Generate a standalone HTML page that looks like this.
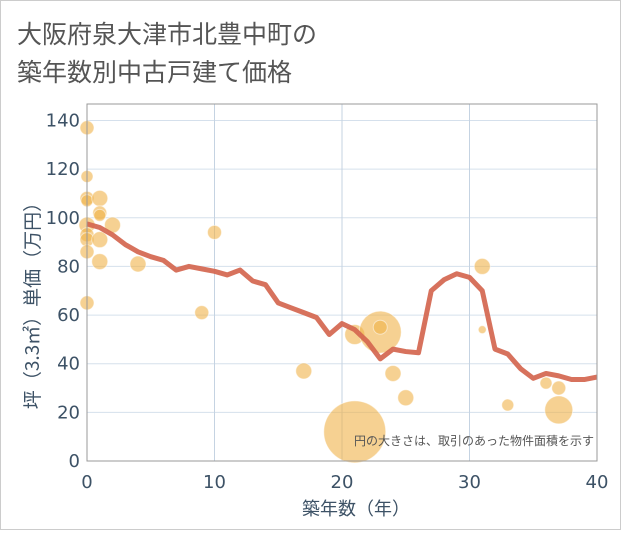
<!DOCTYPE html>
<html><head><meta charset="utf-8"><style>
body{margin:0;background:#fff;font-family:"Liberation Sans","Noto Sans CJK JP",sans-serif;}
#wrap{position:relative;width:619px;height:528px;border:1px solid #ccc;}
</style></head><body>
<div id="wrap">
<svg id="chart" width="619" height="528" xmlns="http://www.w3.org/2000/svg">
<text x="16" y="42" font-size="25" fill="#555" font-family="Noto Sans CJK JP, sans-serif">大阪府泉大津市北豊中町の</text>
<text x="16" y="80" font-size="25" fill="#555" font-family="Noto Sans CJK JP, sans-serif">築年数別中古戸建て価格</text>
<g id="grid"></g><g id="bubbles"></g><g id="line"></g><g id="axes"></g>
<text x="593" y="444" font-size="12" fill="#555" text-anchor="end" font-family="Noto Sans CJK JP, sans-serif">円の大きさは、取引のあった物件面積を示す</text>
<text x="355" y="514" font-size="18" fill="#3d5266" text-anchor="middle" font-family="Noto Sans CJK JP, sans-serif">築年数（年）</text>
<text transform="translate(38,300) rotate(-90)" font-size="19" fill="#3d5266" text-anchor="middle" font-family="Noto Sans CJK JP, sans-serif">坪（3.3㎡）単価（万円）</text>
</svg></div>
<script>
const lineYears=[0,1,2,3,4,5,6,7,8,9,10,11,12,13,14,15,16,17,18,19,20,21,22,23,24,25,26,27,28,29,30,31,32,33,34,35,36,37,38,39,40];
const lineValues=[97.5,96,93,89,86,84,82.5,78.5,80,79,78,76.5,78.5,74,72.5,65,63,61,59,52,56.5,54,49,42,46,45,44.5,70,74.5,77,75.5,70,46,44,38,34,36,35,33.5,33.5,34.5];
const bubbleYears=[0,0,0,0,0,0,0,0,0,1,1,1,1,1,2,4,9,10,17,21,21,23,23,24,25,31,31,33,36,37,37];
const bubbleValues=[137,117,108,107,97,93,91,86,65,108,102,101,91,82,97,81,61,94,37,52,12,53,55,36,26,80,54,23,32,30,21];
const bubbleSizes=[7,6,7,6,8,7,7,7,7,8,7,6,8,8,8,8,7,7,8,10,31,21,7,8,8,8,4,6,6,7,14];
const xTicks=[0,10,20,30,40];
const yTicks=[0,20,40,60,80,100,120,140];
const NS="http://www.w3.org/2000/svg";
const L=86,R=596,T=103,B=460;
const xs=v=>L+(R-L)*v/40;
const ys=v=>B-v*(B-119.5)/140;
function mk(tag,attrs,parent){const e=document.createElementNS(NS,tag);for(const k in attrs)e.setAttribute(k,attrs[k]);document.getElementById(parent).appendChild(e);return e;}
yTicks.forEach(t=>{
 const l=mk('line',{x1:L,x2:R,y1:ys(t),y2:ys(t),stroke:'#d5e0ec','stroke-width':1},'grid');
 
 
 const tx=mk('text',{x:L-7,y:ys(t)+6,'font-size':18,fill:'#3d5266','text-anchor':'end','font-family':'DejaVu Sans, sans-serif'},'axes');
 tx.textContent=t;
 
 
});
xTicks.forEach(t=>{
 const l=mk('line',{x1:xs(t),x2:xs(t),y1:T,y2:B,stroke:'#c5d3e2','stroke-width':1},'grid');
 
 
 const tx=mk('text',{x:xs(t),y:B+27,'font-size':18,fill:'#3d5266','text-anchor':'middle','font-family':'DejaVu Sans, sans-serif'},'axes');
 tx.textContent=t;
 
 
});
const frame=mk('rect',{x:L,y:T,width:R-L,height:B-T,fill:'none',stroke:'#999','stroke-width':1},'axes');


bubbleYears.forEach((yr,i)=>{
 const c=mk('circle',{cx:xs(yr),cy:ys(bubbleValues[i]),r:bubbleSizes[i],fill:'#f0b34a','fill-opacity':0.6,stroke:'#fff','stroke-opacity':0.5},'bubbles');
 
 
});
const p=mk('polyline',{points:lineYears.map((y,i)=>xs(y)+','+ys(lineValues[i])).join(' '),fill:'none',stroke:'#d4664f','stroke-width':5,'stroke-linejoin':'round','stroke-opacity':0.92},'line');


</script>
</body></html>
